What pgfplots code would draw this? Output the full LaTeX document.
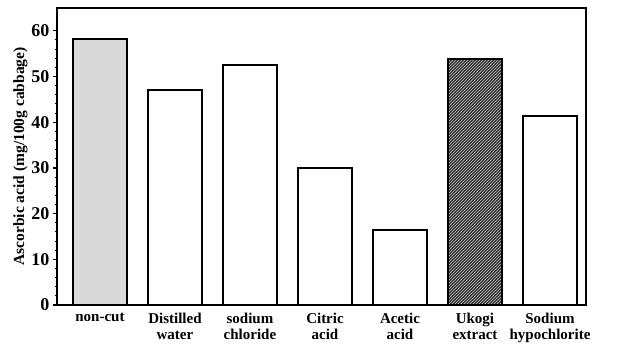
\documentclass[border=0pt]{standalone}
\usepackage{fontspec}
\setmainfont{Liberation Serif}
\usepackage{pgfplots}
\pgfplotsset{compat=1.18}
\usetikzlibrary{patterns}
\begin{document}
\begin{tikzpicture}
\begin{axis}[
  scale only axis,
  width=529pt, height=297pt,
  xmin=-0.573, xmax=6.48,
  ymin=0, ymax=65,
  ytick={0,10,20,30,40,50,60},
  minor y tick num=4,
  ytick pos=left,
  xtick={0,1,2,3,4,5,6},
  xticklabels={non-cut,Distilled\\water,sodium\\chloride,Citric\\acid,Acetic\\acid,Ukogi\\extract,Sodium\\hypochlorite},
  xticklabel style={align=center, font=\bfseries\fontsize{15}{16}\selectfont, anchor=north, yshift=-1pt},
  yticklabel style={font=\bfseries\fontsize{18}{19}\selectfont},
  /pgf/number format/assume math mode=true,
  major x tick style={draw=none},
  major y tick style={line width=1.2pt, black},
  minor y tick style={line width=1pt, black},
  tick align=outside,
  major tick length=4pt, minor tick length=2pt,
  axis line style={line width=2pt},
  ylabel={Ascorbic acid (mg/100g cabbage)},
  ylabel style={font=\bfseries\fontsize{15.5}{16}\selectfont, yshift=-3pt},
  every axis plot/.append style={ybar, bar width=0.71, bar shift=0pt, line width=2pt, draw=black},
]
\addplot[fill=black!15] coordinates {(0,58.2)};
\addplot[fill=white] coordinates {(1,47.1) (2,52.5) (3,30.0) (4,16.4) (6,41.3)};
\addplot[fill=black!80, postaction={pattern=north east lines, pattern color=white!75!black}] coordinates {(5,53.8)};
\end{axis}
\pgfresetboundingbox
\path[use as bounding box] (-57pt,-40pt) rectangle (566pt,305pt);
\end{tikzpicture}
\end{document}
